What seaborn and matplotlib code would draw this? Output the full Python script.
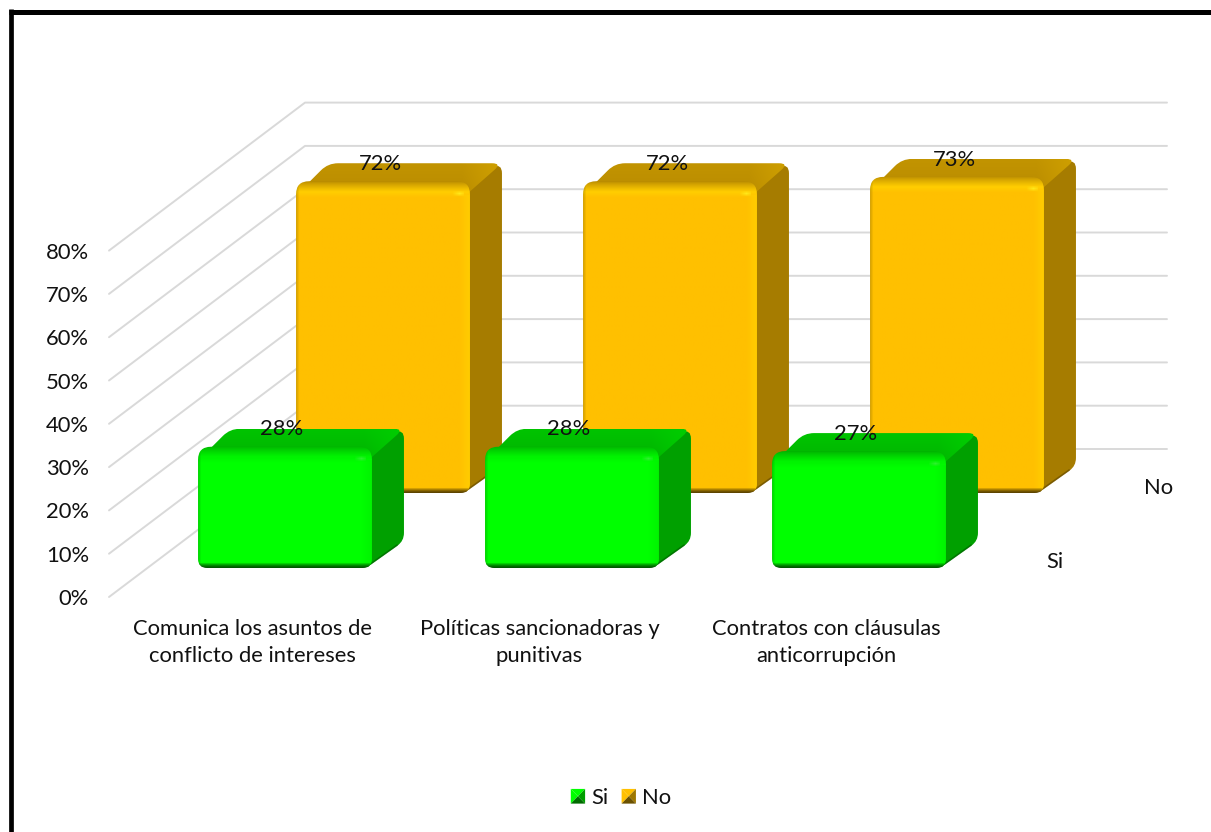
import numpy as np
import pandas as pd
import matplotlib
matplotlib.use("Agg")
import matplotlib.pyplot as plt
import seaborn as sns
from matplotlib.legend_handler import HandlerBase
from matplotlib.lines import Line2D
from matplotlib.patches import Patch, PathPatch, Polygon
from matplotlib.path import Path
from matplotlib.transforms import IdentityTransform

categories = ["Comunica los asuntos de\nconflicto de intereses",
              "Políticas sancionadoras y\npunitivas",
              "Contratos con cláusulas\nanticorrupción"]
series_names = ["Si", "No"]
si_values = [28, 28, 27]
no_values = [72, 72, 73]
percent_ticks = [0, 10, 20, 30, 40, 50, 60, 70, 80]

FACE = {"Si": "#00FF00", "No": "#FFC000"}
SIDE = {"Si": "#00A000", "No": "#A67C00"}
TOP_BACK = {"Si": "#00C400", "No": "#C29400"}
TOP_FRONT = {"Si": "#00B400", "No": "#BA8C00"}
TOP_LIGHT = {"Si": "#00CE00", "No": "#CFA000"}
EDGE = {"Si": "#005A00", "No": "#5E4500"}
RIM = {"Si": "#00F400", "No": "#FFCC00"}
SPOT = {"Si": "#30F030", "No": "#FFE81A"}
# Offset of each series' front plane from the chart's front wall, in pixels.
SERIES_SHIFT = {"Si": (32.5, 29.0), "No": (130.5, 104.0)}
EXTRUDE = (32.0, 18.0)
WALL_DEPTH = (196.0, 148.0)
GRID = "#D9D9D9"
FONT = "Lato"
TEXT = "#111111"
FS = 15.85

W, H = 1211, 832
sns.set_theme(style="white", rc={"font.family": FONT, "axes.facecolor": "none"})
fig = plt.figure(figsize=(W / 100, H / 100), dpi=100, facecolor="white")
ax = fig.add_axes([109 / W, (H - 597) / H, 861 / W, 346.4 / H])

table = pd.DataFrame({
    "categoria": categories * 2,
    "serie": ["Si"] * 3 + ["No"] * 3,
    "valor": si_values + no_values,
})
sns.barplot(data=table, x="categoria", y="valor", hue="serie", hue_order=series_names,
            dodge=False, width=0.606, palette=FACE, legend=False, ax=ax, saturation=1)
ax.set_xlim(-0.5, 2.5)
ax.set_ylim(0, 80)
ax.set_xlabel("")
ax.set_ylabel("")
ax.set_yticks(percent_ticks, [f"{t}%" for t in percent_ticks])
ax.tick_params(axis="y", length=0, pad=14.5, labelsize=FS, labelcolor=TEXT)
ax.tick_params(axis="x", length=0, pad=15.5, labelsize=FS, labelcolor=TEXT)
for lab in ax.get_xticklabels():
    lab.set_linespacing(1.47)
for lab in ax.get_yticklabels():
    lab.set_y(lab.get_position()[1])
sns.despine(ax=ax, left=True, bottom=True)
ax.grid(False)


def rounded(points, radius):
    """Closed path through points with every corner rounded."""
    pts = [np.asarray(p, float) for p in points]
    n = len(pts)
    verts, codes = [], []
    for i, p in enumerate(pts):
        a, b = pts[i - 1], pts[(i + 1) % n]
        r = radius[i] if np.ndim(radius) else radius
        va = (a - p) / np.linalg.norm(a - p)
        vb = (b - p) / np.linalg.norm(b - p)
        verts += [p + va * r, p, p + vb * r]
        codes += [Path.LINETO if i else Path.MOVETO, Path.CURVE3, Path.CURVE3]
    verts.append(verts[0])
    codes.append(Path.CLOSEPOLY)
    return Path(verts, codes)


def rgb(c):
    return np.array(matplotlib.colors.to_rgb(c))


def painted(path, pixels, extent, z):
    """Paint an RGB array over a display-space box, clipped to a path."""
    im = ax.imshow(pixels, extent=extent, transform=IdentityTransform(), origin="upper",
                   aspect="auto", interpolation="bilinear", zorder=z)
    im.set_clip_box(fig.bbox)
    im.set_clip_path(path, IdentityTransform())


def front_pixels(name, w, h):
    base = rgb(FACE[name])
    arr = np.ones((h, w, 3)) * base
    edge = rgb(EDGE[name])
    rim = rgb(RIM[name])
    lid = rgb(TOP_FRONT[name])
    # bevel along the top: lid colour, rising to a bright rim, settling on the face
    for i in range(min(17, h)):
        if i < 11:
            t = (i / 10) ** 0.8
            col = (1 - t) * lid + t * rim
        else:
            t = (i - 11) / 5
            col = (1 - t) * rim + t * base
        arr[i, :] = col
    # lighter strip down the right-hand side
    for j in range(11):
        t = j / 10
        arr[14:, w - 1 - j] = (1 - t) * rim + t * arr[14:, w - 1 - j]
    # dark fade at the bottom and on the left
    for i in range(6):
        t = (i / 5) ** 1.4
        arr[h - 1 - i, :] = (1 - t) * edge + t * arr[h - 1 - i, :]
    for j in range(4):
        arr[:, j] = arr[:, j] * (0.84 + 0.16 * j / 3)
    # soft glint on the upper right corner
    for i in range(9, 15):
        for j in range(w - 18, w - 6):
            t = max(0.0, 1 - abs(i - 12) / 3) * max(0.0, 1 - abs(j - (w - 11)) / 7)
            arr[i, j] = (1 - t) * arr[i, j] + t * rgb(SPOT[name])
    return np.clip(arr, 0, 1)


def top_pixels(name, w, h):
    arr = np.zeros((h, w, 3))
    for i in range(h):
        t = i / max(h - 1, 1)
        arr[i, :] = (1 - t) * rgb(TOP_BACK[name]) + t * rgb(TOP_FRONT[name])
    # the far right corner of the lid catches more light
    for j in range(40):
        t = j / 39
        arr[:, w - 1 - j] = (1 - t) * rgb(TOP_LIGHT[name]) + t * arr[:, w - 1 - j]
    return arr


def draw_block(name, rect, z):
    sx, sy = SERIES_SHIFT[name]
    dx, dy = EXTRUDE
    drop = 27.0
    (x0, y0), (x1, y1) = ax.transData.transform(
        [(rect.get_x(), 0), (rect.get_x() + rect.get_width(), rect.get_height())])
    L, R = x0 + sx, x1 + sx
    B, T = y0 + sy, y1 + sy

    side = rounded([(R - 14, T), (R + dx, T + dy), (R + dx, B + drop), (R - 6, B)], [3, 10, 8, 3])
    ax.add_patch(PathPatch(side, fc=SIDE[name], ec="none", transform=IdentityTransform(),
                           clip_on=False, zorder=z))
    run_x = np.array([R - 6 + 0.12 * (dx + 6), R - 6 + 0.82 * (dx + 6)])
    run_y = np.array([B + 0.12 * drop, B + 0.82 * drop]) + 0.8
    ax.add_line(Line2D(run_x, run_y, color=EDGE[name], lw=1.2, alpha=0.6,
                       transform=IdentityTransform(), clip_on=False, zorder=z))

    top = rounded([(L + 2, T - 12), (L + dx, T + dy), (R + dx, T + dy), (R - 2, T - 12)], [3, 10, 10, 3])
    w, h = int(R - L + dx), int(dy + 12)
    painted(top, top_pixels(name, w, h), (L, R + dx, T - 12, T + dy), z + 0.2)

    front = rounded([(L, B), (L, T), (R, T), (R, B)], [9, 13, 13, 9])
    w, h = int(R - L), int(T - B)
    painted(front, front_pixels(name, w, h), (L, R, B, T), z + 0.3)
    return (L + R) / 2, T


# Floor and wall gridlines: front edge, up the side wall, along the back wall.
depth_x, depth_y = WALL_DEPTH
for tick in percent_ticks:
    fx, fy = ax.transData.transform((-0.5, tick))
    ax.add_line(Line2D([fx, fx + depth_x, fx + depth_x + 862], [fy, fy + depth_y, fy + depth_y],
                       color=GRID, lw=1.4, transform=IdentityTransform(), clip_on=False, zorder=1))

# seaborn's flat rectangles supply the geometry of each extruded block.
layers = {"No": (ax.containers[1], no_values, 3), "Si": (ax.containers[0], si_values, 6)}
for name in ["No", "Si"]:
    bars, values, z = layers[name]
    for rect, value in zip(bars, values):
        rect.set_visible(False)
        cx, top_y = draw_block(name, rect, z)
        ax.annotate(f"{value}%", xy=(cx, top_y), xycoords=IdentityTransform(),
                    xytext=(-2.2, 12.5), textcoords="offset points", ha="center", va="center",
                    fontsize=FS, color=TEXT, zorder=9, annotation_clip=False)

# Labels for the depth axis.
for name, px, py in [("Si", 1055, 562), ("No", 1159, 488)]:
    fig.text(px / W, (H - py) / H, name, ha="center", va="center", fontsize=FS, color=TEXT)

ax.set_xlim(-0.5, 2.5)
ax.set_ylim(0, 80)


class PyramidKey(HandlerBase):
    """Legend key drawn as a bevelled square."""

    def create_artists(self, legend, orig, xd, yd, width, height, fontsize, trans):
        name = orig.get_label()
        x0, y0 = -xd, -yd
        x1, y1 = x0 + width, y0 + height
        c = ((x0 + x1) / 2, (y0 + y1) / 2)
        bright = FACE[name]
        darker = rgb(FACE[name]) * 0.62
        darkest = rgb(FACE[name]) * 0.42
        tris = [([(x0, y0), (x0, y1), c], bright),
                ([(x0, y1), (x1, y1), c], bright),
                ([(x1, y1), (x1, y0), c], darker),
                ([(x0, y0), (x1, y0), c], darkest)]
        return [Polygon(p, closed=True, fc=col, ec="none", transform=trans) for p, col in tris]


handles = [Patch(label=n) for n in series_names]
fig.legend(handles=handles, labels=series_names, ncol=2, frameon=False, fontsize=FS,
           loc="center", bbox_to_anchor=(621 / W, (H - 798) / H),
           handler_map={Patch: PyramidKey()}, handlelength=0.65, handleheight=0.65,
           handletextpad=0.28, columnspacing=0.6, labelcolor=TEXT, borderpad=0, borderaxespad=0)

# Heavy frame on the left and top; the sheet runs off to the right and bottom.
fig.add_artist(Line2D([11 / W, 11 / W], [0, (H - 9) / H], color="black", lw=3.4,
                      transform=fig.transFigure, solid_capstyle="butt"))
fig.add_artist(Line2D([9 / W, 1], [(H - 11.5) / H, (H - 11.5) / H], color="black", lw=3.6,
                      transform=fig.transFigure, solid_capstyle="butt"))

fig.savefig("out.png", dpi=100)
